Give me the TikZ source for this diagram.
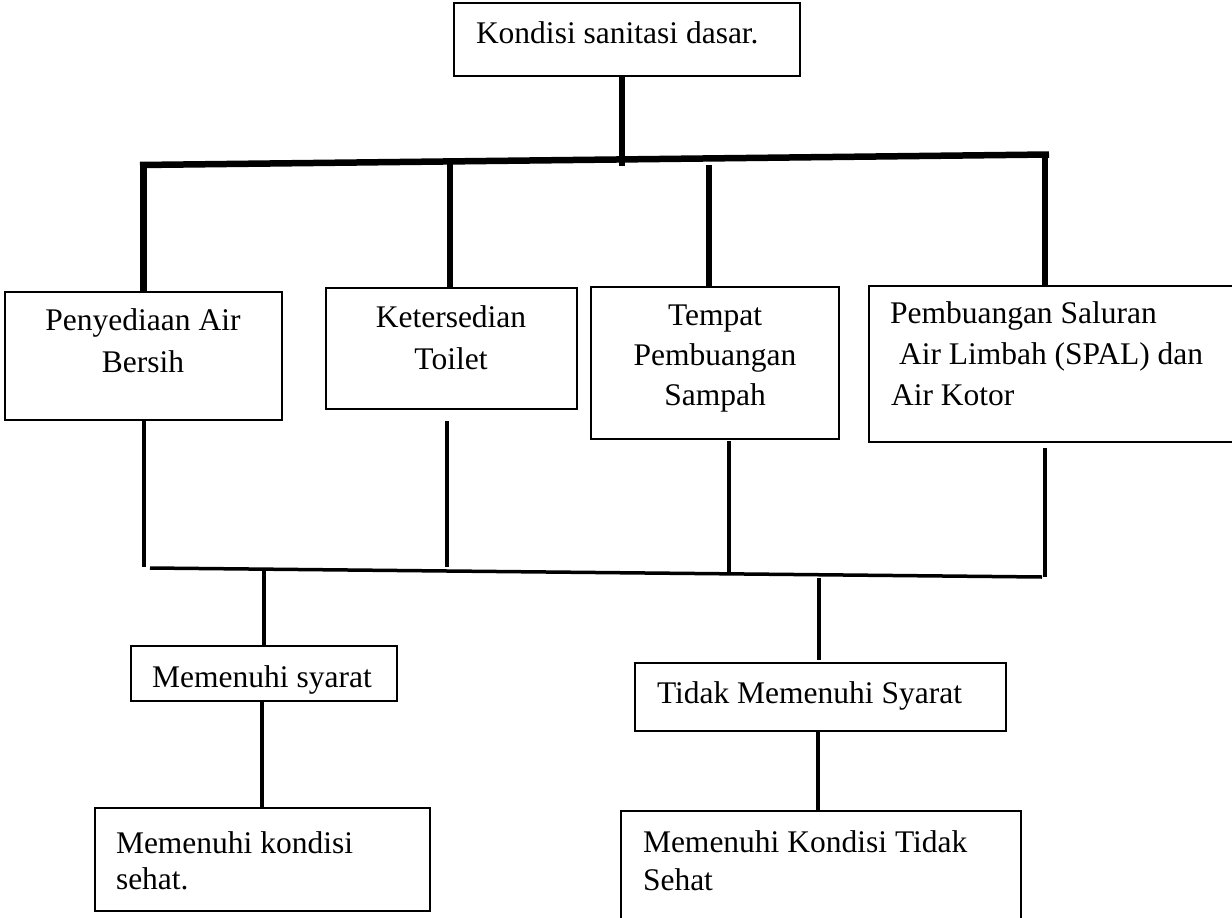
\documentclass[tikz,border=0pt]{standalone}
\usepackage{fontspec}
\setmainfont{Liberation Serif}
\begin{document}
\begin{tikzpicture}[x=1pt,y=-1pt,
  box/.style={draw,line width=2pt,inner sep=0pt,outer sep=0pt,rectangle},
  txt/.style={inner sep=0pt,outer sep=0pt,font=\fontsize{31.5}{40}\selectfont},
  heavy/.style={line width=6.5pt},
  light/.style={line width=3.5pt}]
\clip (0,0) rectangle (1232,918);
\fill[white] (0,0) rectangle (1232,918);

% boxes
\node[box,minimum width=346pt,minimum height=73pt] (top) at (627,39.5) {};
\node[box,minimum width=277pt,minimum height=128pt] (b1) at (143.5,355.5) {};
\node[box,minimum width=251pt,minimum height=121pt] (b2) at (451.5,348.5) {};
\node[box,minimum width=248pt,minimum height=152pt] (b3) at (715,363) {};
\node[box,minimum width=376pt,minimum height=156pt] (b4) at (1057,364) {};
\node[box,minimum width=266pt,minimum height=55pt] (ms) at (264,673.5) {};
\node[box,minimum width=371pt,minimum height=68pt] (tms) at (820.5,697) {};
\node[box,minimum width=335pt,minimum height=103pt] (mks) at (262.5,859.5) {};
\node[box,minimum width=400pt,minimum height=140pt] (mkts) at (821,881) {};

% texts
\node[txt,anchor=base west] (ttop) at (476,43) {Kondisi sanitasi dasar.};
\node[txt,anchor=base] (t1a) at (143,330) {Penyediaan Air};
\node[txt,anchor=base] (t1b) at (143,372) {Bersih};
\node[txt,anchor=base] (t2a) at (451,327) {Ketersedian};
\node[txt,anchor=base] (t2b) at (451,369) {Toilet};
\node[txt,anchor=base] (t3a) at (715,325) {Tempat};
\node[txt,anchor=base] (t3b) at (715,365) {Pembuangan};
\node[txt,anchor=base] (t3c) at (715,405) {Sampah};
\node[txt,anchor=base west] (t4a) at (890,323) {Pembuangan Saluran};
\node[txt,anchor=base west] (t4b) at (899,364) {Air Limbah (SPAL) dan};
\node[txt,anchor=base west] (t4c) at (891,405) {Air Kotor};
\node[txt,anchor=base] (tms1) at (262,687) {Memenuhi syarat};
\node[txt,anchor=base west] (ttms) at (657,703) {Tidak Memenuhi Syarat};
\node[txt,anchor=base west] (tmk1) at (116,853) {Memenuhi kondisi};
\node[txt,anchor=base west] (tmk2) at (116,889) {sehat.};
\node[txt,anchor=base west] (tmt1) at (643,852) {Memenuhi Kondisi Tidak};
\node[txt,anchor=base west] (tmt2) at (643,890) {Sehat};

% upper bus coordinates
\coordinate (stemtop) at (622,76);
\coordinate (stembot) at (622,166);
\coordinate (busL) at (140,165);
\coordinate (busR) at (1049,154.5);
\coordinate (u1) at (143.5,164);
\coordinate (u2) at (450,161);
\coordinate (u3) at (709,165);
\coordinate (u3b) at (709,287);
\coordinate (u4) at (1045,154);
\coordinate (u4b) at (1045,286);

\draw[heavy] (stemtop) -- (stembot);
\draw[heavy] (busL) -- (busR);
\draw[heavy] (u1) -- (b1.north);
\draw[heavy] (u2) -- (450,288);
\draw[heavy] (u3) -- (u3b);
\draw[heavy] (u4) -- (u4b);

% lower bus coordinates
\coordinate (d1a) at (144,420);
\coordinate (d1b) at (144,567);
\coordinate (d2a) at (447,421);
\coordinate (d2b) at (447,567);
\coordinate (d3a) at (729,441);
\coordinate (d3b) at (729,575);
\coordinate (d4a) at (1045,448);
\coordinate (d4b) at (1045,577);
\coordinate (bus2L) at (150,568);
\coordinate (bus2R) at (1042,577);
\coordinate (m1) at (264,569.5);
\coordinate (m2) at (819,578);
\coordinate (m2b) at (819,660);
\coordinate (n1) at (262,701);
\coordinate (n1b) at (262,808);
\coordinate (n2) at (818,731);
\coordinate (n2b) at (818,811);

\draw[light] (d1a) -- (d1b);
\draw[light] (d2a) -- (d2b);
\draw[light] (d3a) -- (d3b);
\draw[light] (d4a) -- (d4b);
\draw[light] (bus2L) -- (bus2R);
\draw[light] (m1) -- (ms.north);
\draw[light] (m2) -- (m2b);
\draw[light] (n1) -- (n1b);
\draw[light] (n2) -- (n2b);
\end{tikzpicture}
\end{document}
